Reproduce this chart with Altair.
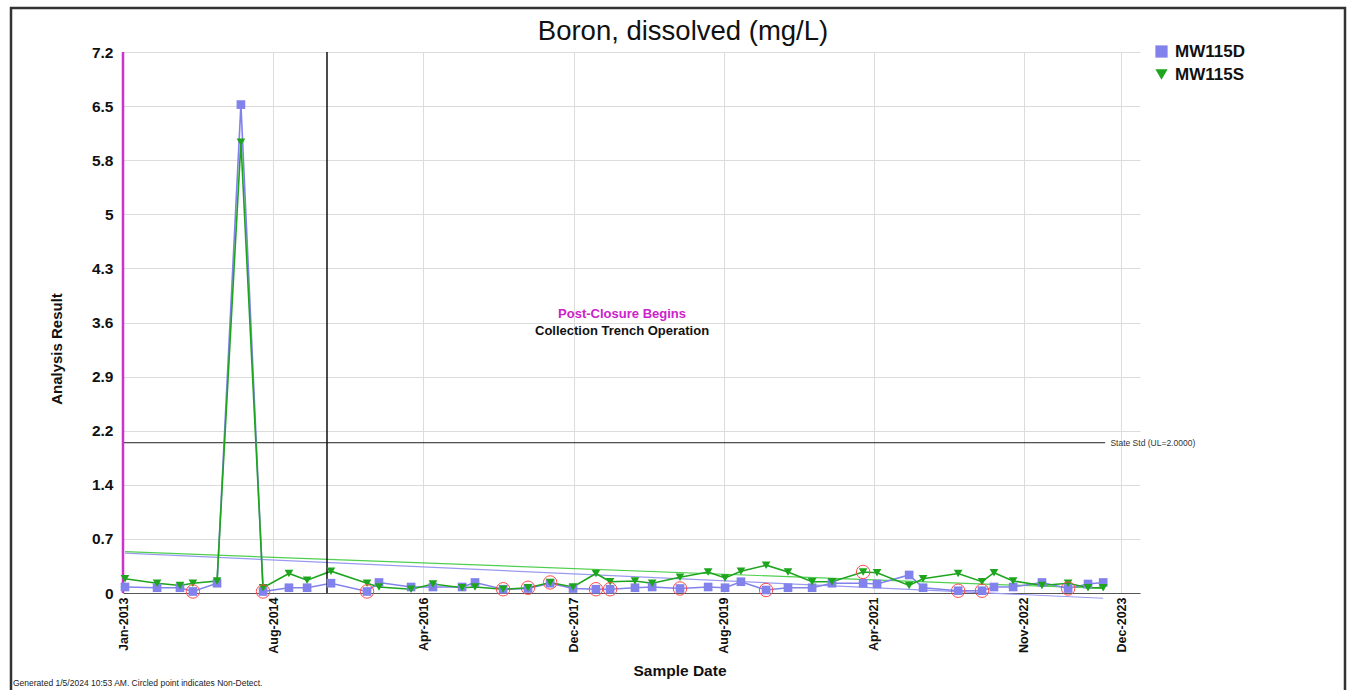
import altair as alt
import pandas as pd

# ---------------- data ----------------
dates = ["2013-01-09", "2013-05-18", "2013-08-18", "2013-10-09", "2014-01-14", "2014-04-20",
         "2014-07-18", "2014-10-30", "2015-01-11", "2015-04-17", "2015-09-09", "2015-10-27",
         "2016-03-04", "2016-05-31", "2016-09-25", "2016-11-16", "2017-03-09", "2017-06-17",
         "2017-09-14", "2017-12-15", "2018-03-17", "2018-05-13", "2018-08-21", "2018-10-29",
         "2019-02-18", "2019-06-11", "2019-08-18", "2019-10-21", "2020-01-30", "2020-04-27",
         "2020-08-02", "2020-10-21", "2021-02-23", "2021-04-20", "2021-08-27", "2021-10-22",
         "2022-03-12", "2022-06-16", "2022-08-03", "2022-10-19", "2023-02-12", "2023-05-28",
         "2023-08-16", "2023-10-16"]
mw115d = [0.08, 0.07, 0.07, 0.02, 0.13, 6.50, 0.02, 0.07, 0.07, 0.13, 0.02, 0.14,
          0.08, 0.08, 0.08, 0.14, 0.05, 0.06, 0.13, 0.06, 0.05, 0.05, 0.07, 0.08,
          0.06, 0.08, 0.07, 0.15, 0.04, 0.07, 0.07, 0.13, 0.13, 0.12, 0.24, 0.07,
          0.03, 0.03, 0.08, 0.08, 0.14, 0.06, 0.12, 0.14]
mw115s = [0.19, 0.13, 0.10, 0.13, 0.16, 6.00, 0.07, 0.26, 0.17, 0.29, 0.13, 0.08,
          0.05, 0.12, 0.07, 0.08, 0.05, 0.07, 0.14, 0.08, 0.26, 0.15, 0.16, 0.13,
          0.21, 0.28, 0.20, 0.29, 0.37, 0.28, 0.15, 0.15, 0.28, 0.27, 0.10, 0.19,
          0.26, 0.15, 0.27, 0.16, 0.10, 0.13, 0.07, 0.07]
# 1 = non-detect (circled)
nd_d = [0, 0, 0, 1, 0, 0, 1, 0, 0, 0, 1, 0,
        0, 0, 0, 0, 0, 0, 0, 0, 1, 1, 0, 0,
        1, 0, 0, 0, 1, 0, 0, 0, 0, 0, 0, 0,
        1, 1, 0, 0, 0, 1, 0, 0]
nd_s = [0, 0, 0, 0, 0, 0, 0, 0, 0, 0, 0, 0,
        0, 0, 0, 0, 1, 1, 1, 0, 0, 0, 0, 0,
        0, 0, 0, 0, 0, 0, 0, 0, 1, 0, 0, 0,
        0, 0, 0, 0, 0, 0, 0, 0]

series_names = ["MW115D", "MW115S"]
trend_dates = ["2013-01-09", "2023-10-16"]
trend_d = [0.53, -0.07]
trend_s = [0.55, 0.06]

x_tick_dates = ["2013-01-01", "2014-08-28", "2016-04-22", "2017-12-17",
                "2019-08-12", "2021-04-07", "2022-11-30", "2023-12-27"]
x_domain = ["2013-01-01", "2024-03-12"]
y_ticks = [0, 0.72, 1.44, 2.16, 2.88, 3.6, 4.32, 5.04, 5.76, 6.48, 7.2]

post_closure_date = "2013-01-01"
trench_date = "2015-04-01"
state_std = 2.0
state_std_end = "2023-10-24"
state_std_label_date = "2023-11-14"
state_std_label = "State Std (UL=2.0000)"

ann_text = ["Post-Closure Begins", "Collection Trench Operation"]
ann_dates = ["2018-06-30", "2018-06-30"]
ann_values = [3.71, 3.49]
ann_colors = ["#cc22cc", "#111111"]

title_text = "Boron, dissolved (mg/L)"
footnote = "Generated 1/5/2024 10:53 AM. Circled point indicates Non-Detect."

# ---------------- build tables ----------------
def ms(s):
    return int(pd.Timestamp(s, tz="UTC").value // 10**6)

rows = []
for i, d in enumerate(dates):
    rows.append({"date": d, "value": mw115d[i], "series": series_names[0], "nd": nd_d[i]})
    rows.append({"date": d, "value": mw115s[i], "series": series_names[1], "nd": nd_s[i]})
df = pd.DataFrame(rows)

trend_rows = []
for i, d in enumerate(trend_dates):
    trend_rows.append({"date": d, "value": trend_d[i], "series": series_names[0]})
    trend_rows.append({"date": d, "value": trend_s[i], "series": series_names[1]})
tdf = pd.DataFrame(trend_rows)

FONT = "Liberation Sans"
blue = "#8282ec"
green = "#1ea51e"
series_colors = [blue, green]
trend_colors = ["#9a9af0", "#4fcf4f"]

xscale = alt.Scale(type="utc", domain=[ms(x_domain[0]), ms(x_domain[1])])
yscale = alt.Scale(domain=[0, 7.2], nice=False, zero=False)

xaxis = alt.Axis(values=[ms(s) for s in x_tick_dates], format="%b-%Y", labelAngle=270,
                 labelFont=FONT, labelFontSize=12.5, labelFontWeight="bold", labelColor="#111",
                 labelPadding=4, grid=True, gridColor="#dcdcdc", ticks=False,
                 domainColor="#555", title=None, labelOverlap=False, labelFlush=False)
yaxis = alt.Axis(values=y_ticks, labelExpr="format(datum.value, '.1~f')",
                 labelFont=FONT, labelFontSize=15.5, labelFontWeight="bold", labelColor="#111",
                 labelPadding=10, grid=True, gridColor="#dcdcdc", ticks=False, domain=False,
                 title=None)

X = alt.X("date:T", scale=xscale, axis=xaxis)
Y = alt.Y("value:Q", scale=yscale, axis=yaxis)

color_scale = alt.Scale(domain=series_names, range=series_colors)
shape_scale = alt.Scale(domain=series_names, range=["square", "triangle-down"])

legend = alt.Legend(title=None, orient="none", legendX=1030, legendY=-9,
                    labelFont=FONT, labelFontSize=17, labelFontWeight="bold", labelColor="#111",
                    symbolSize=150, symbolStrokeWidth=0, rowPadding=5, labelOffset=5)

layers_series = []
for name, col, tcol in zip(series_names, series_colors, trend_colors):
    layers_series.append(
        alt.Chart(tdf).transform_filter(alt.datum.series == name)
        .mark_line(strokeWidth=1.2, clip=False, color=tcol).encode(x=X, y=Y)
    )
for name, col in zip(series_names, series_colors):
    layers_series.append(
        alt.Chart(df).transform_filter(alt.datum.series == name)
        .mark_line(strokeWidth=1.6, color=col).encode(x=X, y=Y, order=alt.Order("date:T"))
    )

points = alt.Chart(df).mark_point(filled=True, opacity=1, size=75).encode(
    x=X, y=Y,
    color=alt.Color("series:N", scale=color_scale, legend=legend),
    shape=alt.Shape("series:N", scale=shape_scale, legend=legend),
)

nd_circles = alt.Chart(df).transform_filter("datum.nd == 1").mark_point(
    shape="circle", filled=False, stroke="#ff4a4a", strokeWidth=1, size=180, opacity=1
).encode(x=X, y=Y)

pc_line = alt.Chart(pd.DataFrame({"date": [post_closure_date]})).mark_rule(
    color="#cc33cc", strokeWidth=2.5
).encode(x=alt.X("date:T", scale=xscale))

trench_line = alt.Chart(pd.DataFrame({"date": [trench_date]})).mark_rule(
    color="#111111", strokeWidth=1.5
).encode(x=alt.X("date:T", scale=xscale))

std_rule = alt.Chart(pd.DataFrame({
    "date": [post_closure_date], "end": [state_std_end], "value": [state_std]
})).mark_rule(color="#222", strokeWidth=1).encode(
    x=alt.X("date:T", scale=xscale), x2="end:T", y=alt.Y("value:Q", scale=yscale)
)

std_label = alt.Chart(pd.DataFrame({
    "date": [state_std_label_date], "value": [state_std], "t": [state_std_label]
})).mark_text(align="left", baseline="middle", font=FONT, fontSize=8.5, color="#333").encode(
    x=alt.X("date:T", scale=xscale), y=alt.Y("value:Q", scale=yscale), text="t:N"
)

ann = alt.Chart(pd.DataFrame({
    "date": ann_dates, "value": ann_values, "t": ann_text, "col": ann_colors
})).mark_text(align="center", baseline="middle", font=FONT, fontSize=13, fontWeight="bold").encode(
    x=alt.X("date:T", scale=xscale), y=alt.Y("value:Q", scale=yscale), text="t:N",
    fill=alt.Fill("col:N", scale=None)
)

title_mark = alt.Chart(pd.DataFrame({"t": [title_text]})).mark_text(
    font=FONT, fontSize=27.5, color="#111", align="center", baseline="middle"
).encode(x=alt.value(560), y=alt.value(-20), text="t:N")

ytitle = alt.Chart(pd.DataFrame({"t": ["Analysis Result"]})).mark_text(
    font=FONT, fontSize=15, fontWeight="bold", color="#111", angle=270,
    align="center", baseline="middle"
).encode(x=alt.value(-66), y=alt.value(297), text="t:N")

xtitle = alt.Chart(pd.DataFrame({"t": ["Sample Date"]})).mark_text(
    font=FONT, fontSize=15.5, fontWeight="bold", color="#111", align="center", baseline="middle"
).encode(x=alt.value(557), y=alt.value(619), text="t:N")

foot = alt.Chart(pd.DataFrame({"t": [footnote]})).mark_text(
    font=FONT, fontSize=8.5, color="#222", align="left", baseline="middle"
).encode(x=alt.value(-110), y=alt.value(631), text="t:N")

frame = alt.Chart(pd.DataFrame({"t": [1]})).mark_rect(
    filled=False, fill=None, stroke="#333", strokeWidth=2.5, clip=False
).encode(x=alt.value(-112), x2=alt.value(1222), y=alt.value(-44), y2=alt.value(642))

chart = alt.layer(
    frame, std_rule, std_label, *layers_series, pc_line, trench_line, points, nd_circles, ann,
    title_mark, ytitle, xtitle, foot
).properties(
    width=1017, height=541,
    autosize=alt.AutoSizeParams(type="none"),
    padding={"left": 123, "top": 52, "right": 216, "bottom": 97},
    background="white",
).configure_view(stroke=None)

chart.save("out.html", embed_options={"renderer": "svg", "actions": False})
